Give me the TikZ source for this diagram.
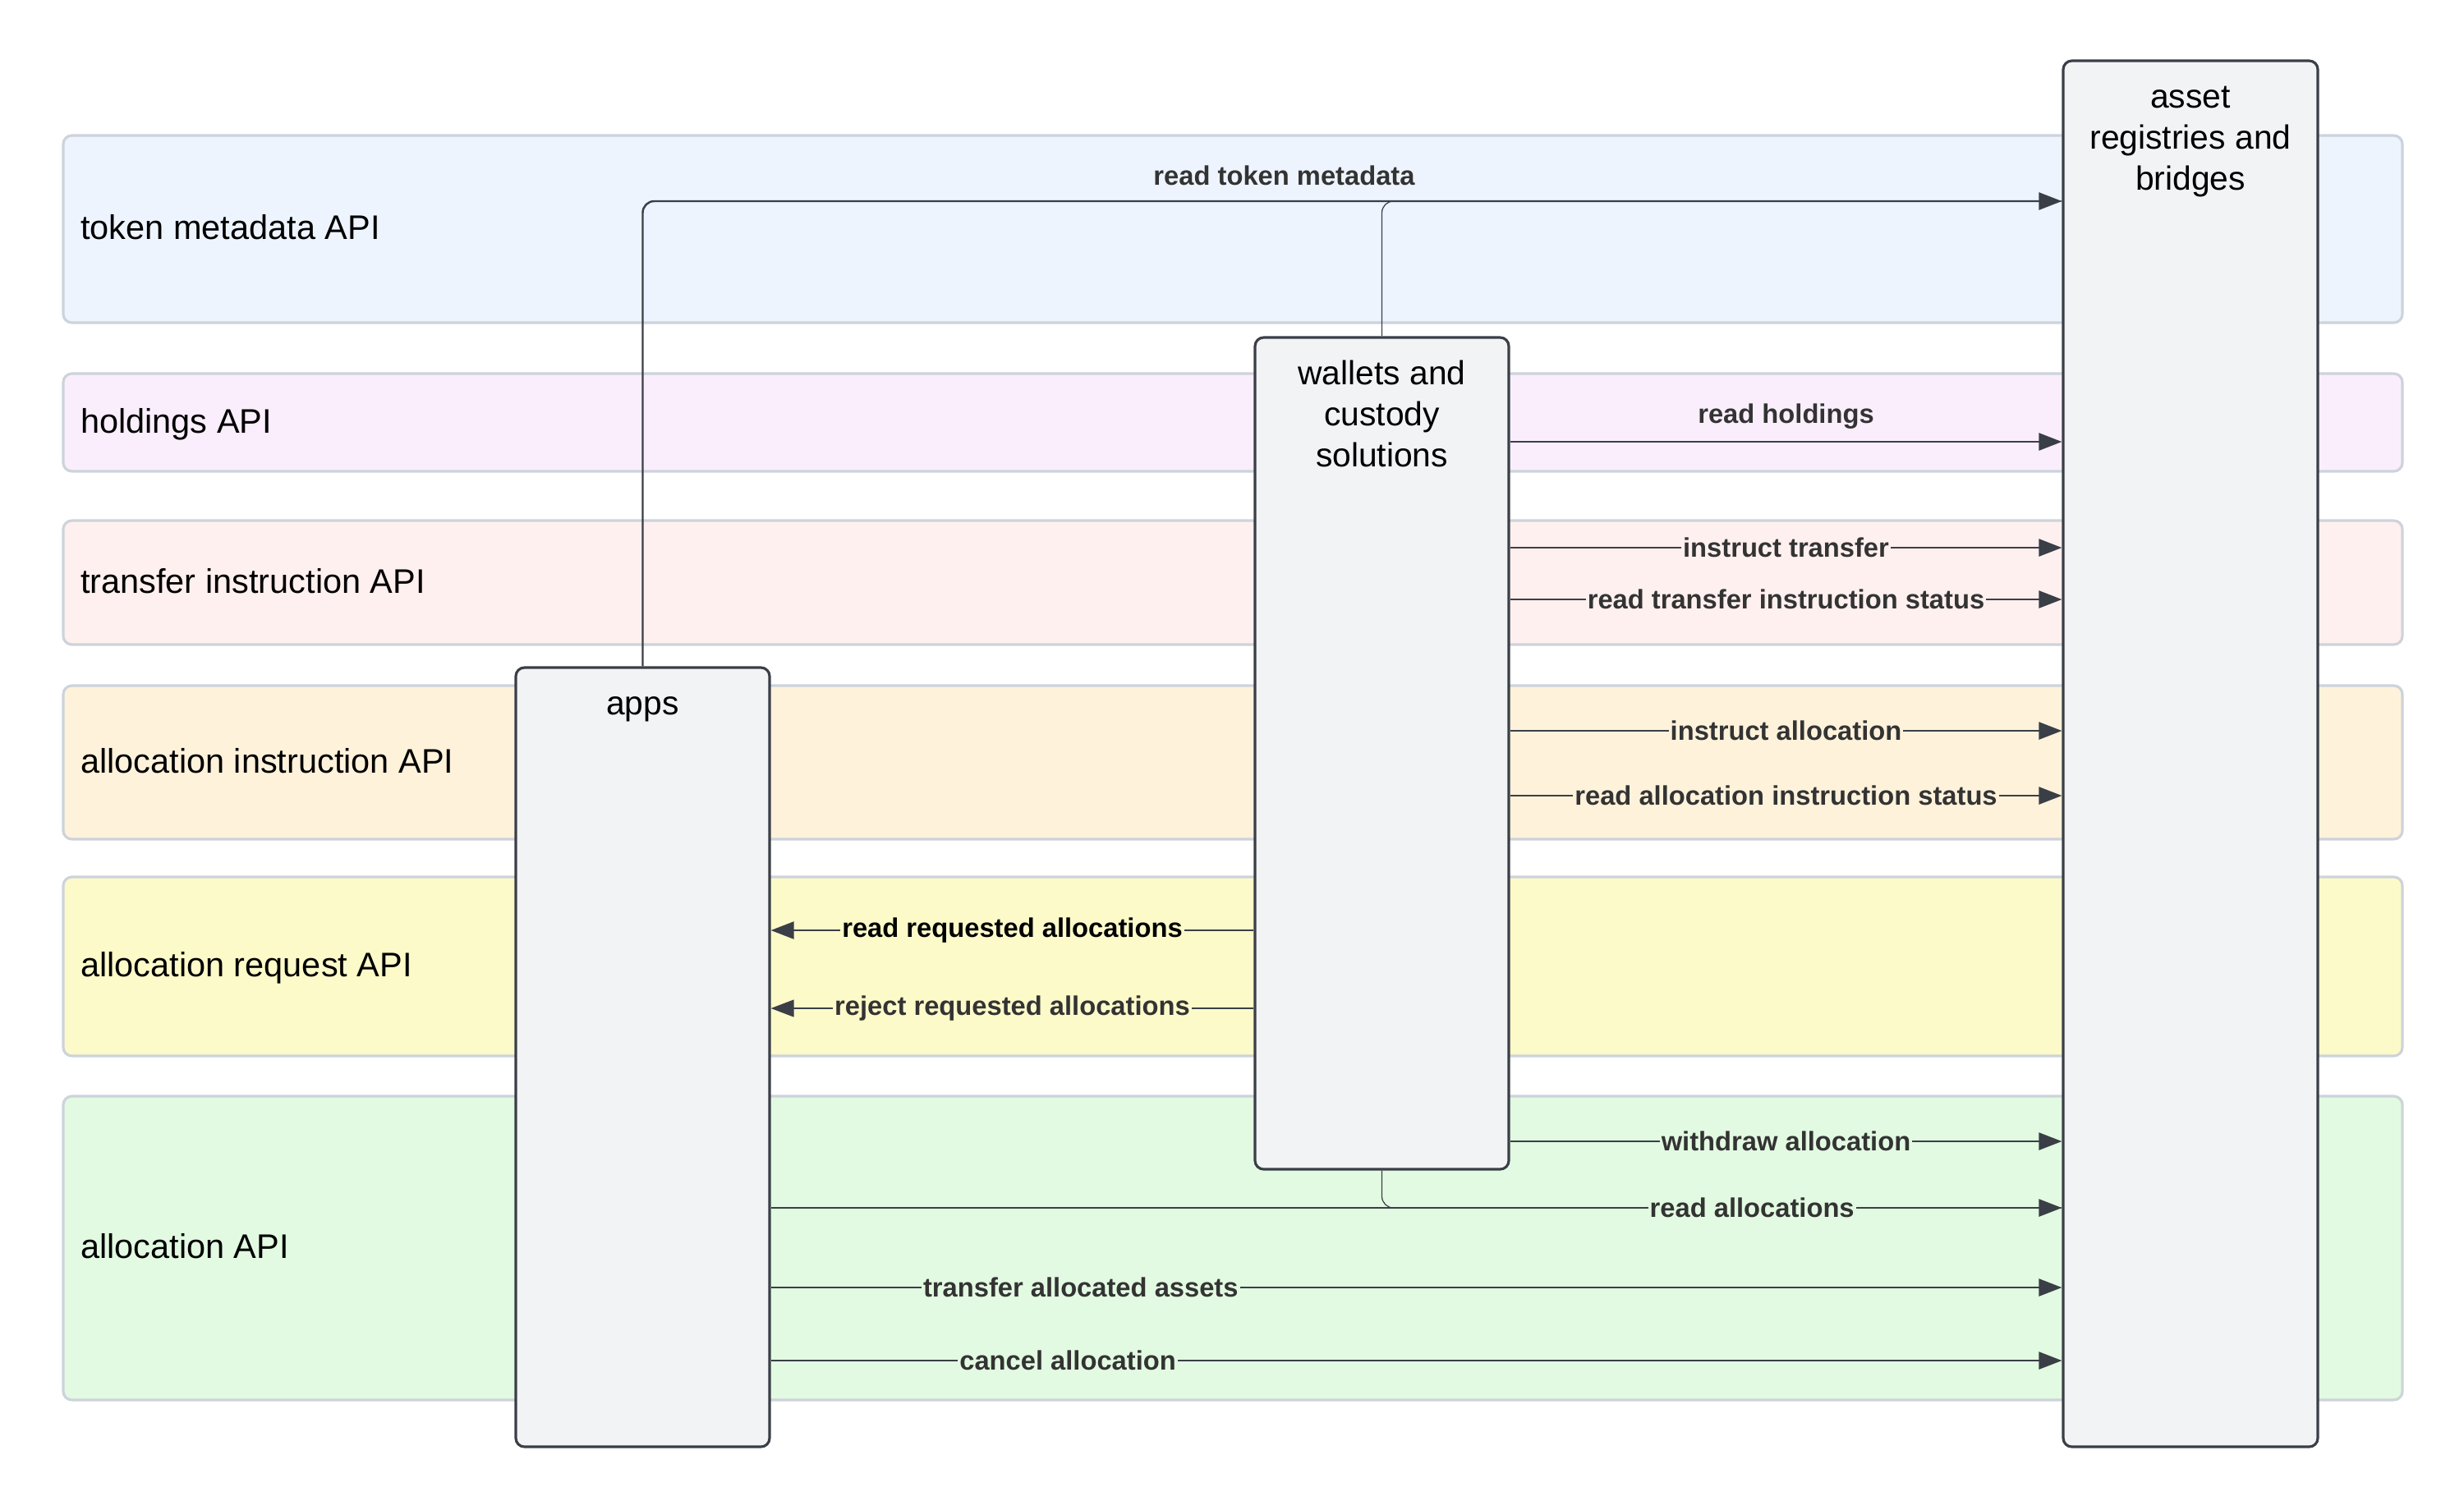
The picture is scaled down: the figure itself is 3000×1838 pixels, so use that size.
\documentclass[tikz,border=0pt]{standalone}
\usepackage{fontspec}
\setmainfont{Liberation Sans}
\usetikzlibrary{arrows.meta,positioning,fit}
\definecolor{bandline}{HTML}{CDD3DB}
\definecolor{tmfill}{HTML}{EDF4FE}
\definecolor{hofill}{HTML}{FAEEFD}
\definecolor{trfill}{HTML}{FEF0EF}
\definecolor{aifill}{HTML}{FEF2DB}
\definecolor{arfill}{HTML}{FCFAC9}
\definecolor{alfill}{HTML}{E2FAE1}
\definecolor{actfill}{HTML}{F2F3F5}
\definecolor{actline}{HTML}{3A3F47}
\definecolor{lbltext}{HTML}{333333}
\tikzset{
  band/.style={draw=bandline, line width=0.9pt, rounded corners=3pt, inner sep=0pt},
  bandtxt/.style={font=\fontsize{11.8}{14}\selectfont, inner sep=0pt, anchor=west, text height=0.72em, text depth=0.21em, yshift=-1pt},
  actor/.style={draw=actline, fill=actfill, line width=0.9pt, rounded corners=3pt, inner sep=0pt},
  actortxt/.style={font=\fontsize{11.6}{14.2}\selectfont, align=center},
  arr/.style={-{Triangle[length=2.8mm, width=2.1mm]}, draw=actline, line width=0.7pt},
  link/.style={draw=actline, line width=0.35pt, rounded corners=4pt},
  lbl/.style={font=\fontsize{9.3}{11}\selectfont\bfseries, text=lbltext, inner sep=0.6pt}}
\begin{document}
\begin{tikzpicture}[x=0.01cm, y=-0.01cm]
  \useasboundingbox (0,0) rectangle (3000,1838);
  % API bands
  \node[band, fill=tmfill, fit={(77,165) (2925,393)}] (tmband) {};
  \node[band, fill=hofill, fit={(77,455) (2925,574)}] (hoband) {};
  \node[band, fill=trfill, fit={(77,634) (2925,785)}] (trband) {};
  \node[band, fill=aifill, fit={(77,835) (2925,1022)}] (aiband) {};
  \node[band, fill=arfill, fit={(77,1068) (2925,1286)}] (arband) {};
  \node[band, fill=alfill, fit={(77,1335) (2925,1705)}] (alband) {};
  \node[bandtxt, right=0.22cm of tmband.west] (tmtxt) {token metadata API};
  \node[bandtxt, right=0.22cm of hoband.west] (hotxt) {holdings API};
  \node[bandtxt, right=0.22cm of trband.west] (trtxt) {transfer instruction API};
  \node[bandtxt, right=0.22cm of aiband.west] (aitxt) {allocation instruction API};
  \node[bandtxt, right=0.22cm of arband.west] (artxt) {allocation request API};
  \node[bandtxt, right=0.22cm of alband.west] (altxt) {allocation API};
  % actors
  \node[actor, fit={(2512,74) (2822,1762)}] (asset) {};
  \node[actor, fit={(1528,411) (1837,1424)}] (wallets) {};
  \node[actor, fit={(628,813) (937,1762)}] (apps) {};
  \node[actortxt] (assettxt) at ([yshift=-1.0cm]asset.north) {asset\\registries and\\bridges};
  \node[actortxt] (walletstxt) at ([yshift=-0.94cm]wallets.north) {wallets and\\custody\\solutions};
  \node[actortxt] (appstxt) at ([yshift=-0.52cm]apps.north) {apps};
  % messages
  \draw[link] (wallets.north) |- (asset.west |- 0,245);
  \draw[arr, rounded corners=4pt] (apps.north) |- node[lbl, pos=0.726, above=4.5pt] {read token metadata} (asset.west |- 0,245);
  \draw[arr] (wallets.east |- 0,538) -- node[lbl, above=3.5pt] {read holdings} (asset.west |- 0,538);
  \foreach \yy/\txt/\col in {667/instruct transfer/trfill, 730/read transfer instruction status/trfill,
      890/instruct allocation/aifill, 969/read allocation instruction status/aifill, 1390/withdraw allocation/alfill}
    \draw[arr] (wallets.east |- 0,\yy) -- node[lbl, fill=\col] {\txt} (asset.west |- 0,\yy);
  \draw[arr] (wallets.west |- 0,1133) -- node[lbl, fill=arfill, text=black] {read requested allocations} (apps.east |- 0,1133);
  \draw[arr, line width=0.35pt] (wallets.west |- 0,1228) -- node[lbl, fill=arfill] {reject requested allocations} (apps.east |- 0,1228);
  \draw[link] (wallets.south) |- (asset.west |- 0,1471);
  \draw[arr] (apps.east |- 0,1471) -- node[lbl, pos=0.76, fill=alfill] {read allocations} (asset.west |- 0,1471);
  \draw[arr] (apps.east |- 0,1568) -- node[lbl, pos=0.24, fill=alfill] {transfer allocated assets} (asset.west |- 0,1568);
  \draw[arr] (apps.east |- 0,1657) -- node[lbl, pos=0.23, fill=alfill] {cancel allocation} (asset.west |- 0,1657);
\end{tikzpicture}
\end{document}
